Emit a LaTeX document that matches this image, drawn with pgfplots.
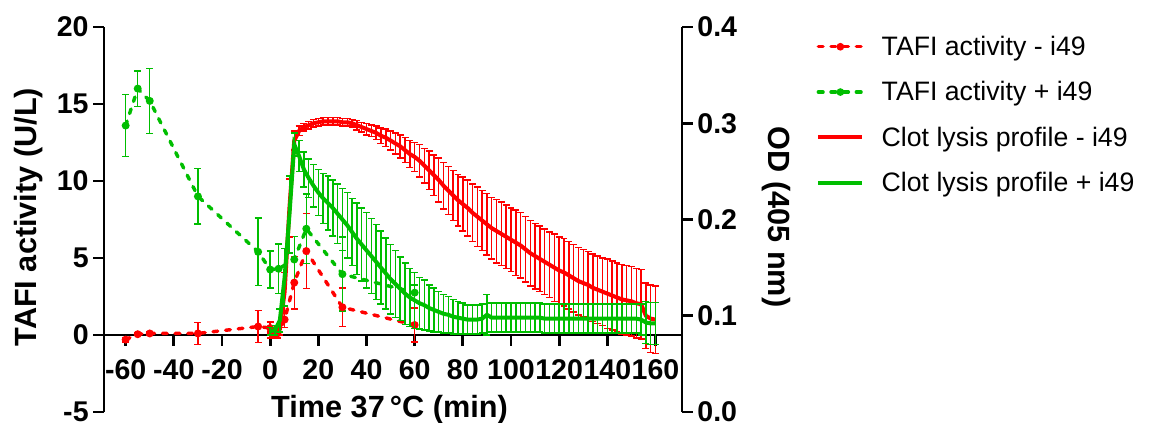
\documentclass[border=0pt]{standalone}
\usepackage{fontspec}
\setmainfont{Liberation Sans}
\usepackage{pgfplots}
\pgfplotsset{compat=1.18}
\definecolor{myred}{RGB}{255,0,0}
\definecolor{mygreen}{RGB}{0,190,0}

\pgfplotstableread{
x y e
-60 -0.3 0.15
-55 0.05 0.1
-50 0.1 0.1
-30 0.1 0.72
-5 0.55 1.05
0 0.45 0.4
3 0.1 0.3
6 1.0 0.5
10 3.4 1.7
15 5.45 2.43
30 1.8 1.25
60 0.65 1.1
}\tafiminus

\pgfplotstableread{
x y e
-60 13.6 2.0
-55 16.0 1.15
-50 15.2 2.1
-30 9.0 1.8
-5 5.4 2.2
0 4.25 1.2
3.5 4.3 1.6
10 4.9 1.5
15 6.9 2.25
30 3.95 2.4
60 2.75 0.5
}\tafiplus

\pgfplotstableread{
x y e
0 0.080 0.003
2 0.080 0.003
4 0.086 0.006
6 0.125 0.020
8 0.212 0.030
10 0.282 0.010
12 0.292 0.005
14 0.296 0.004
16 0.298 0.004
18 0.300 0.004
20 0.301 0.004
22 0.302 0.004
24 0.302 0.004
26 0.302 0.004
28 0.302 0.004
30 0.301 0.004
32 0.301 0.004
34 0.300 0.004
36 0.298 0.005
38 0.296 0.005
40 0.294 0.006
42 0.292 0.006
44 0.290 0.007
46 0.287 0.008
48 0.285 0.009
50 0.282 0.010
52 0.279 0.011
54 0.276 0.012
56 0.272 0.013
58 0.268 0.014
60 0.265 0.015
62 0.261 0.017
64 0.256 0.018
66 0.251 0.020
68 0.246 0.021
70 0.241 0.023
72 0.235 0.024
74 0.230 0.025
76 0.225 0.026
78 0.220 0.027
80 0.216 0.028
82 0.212 0.029
84 0.207 0.030
86 0.203 0.031
88 0.199 0.031
90 0.195 0.032
92 0.191 0.032
94 0.188 0.033
96 0.185 0.033
98 0.182 0.033
100 0.179 0.033
102 0.176 0.034
104 0.173 0.034
106 0.169 0.034
108 0.165 0.034
110 0.162 0.034
112 0.159 0.034
114 0.156 0.034
116 0.153 0.034
118 0.150 0.035
120 0.147 0.035
122 0.145 0.035
124 0.142 0.035
126 0.139 0.035
128 0.136 0.035
130 0.134 0.035
132 0.132 0.035
134 0.129 0.035
136 0.127 0.035
138 0.125 0.035
140 0.123 0.036
142 0.121 0.036
144 0.119 0.036
146 0.117 0.036
148 0.116 0.036
150 0.115 0.036
152 0.113 0.036
154 0.112 0.036
156 0.100 0.034
158 0.097 0.035
160 0.096 0.035
}\clotminus

\pgfplotstableread{
x y e
0 0.084 0.004
2 0.085 0.005
4 0.095 0.012
6 0.140 0.030
8 0.205 0.040
10 0.278 0.012
12 0.266 0.016
14 0.252 0.018
16 0.243 0.020
18 0.235 0.022
20 0.228 0.024
22 0.222 0.026
24 0.217 0.028
26 0.212 0.029
28 0.206 0.031
30 0.200 0.032
32 0.194 0.034
34 0.187 0.035
36 0.180 0.037
38 0.174 0.038
40 0.168 0.039
42 0.162 0.039
44 0.156 0.039
46 0.150 0.038
48 0.144 0.037
50 0.138 0.036
52 0.133 0.035
54 0.128 0.033
56 0.123 0.032
58 0.119 0.030
60 0.116 0.029
62 0.113 0.027
64 0.111 0.026
66 0.108 0.024
68 0.106 0.023
70 0.104 0.021
72 0.102 0.020
74 0.101 0.019
76 0.099 0.018
78 0.098 0.017
80 0.097 0.016
82 0.096 0.015
84 0.096 0.015
86 0.096 0.015
88 0.097 0.015
90 0.101 0.021
92 0.098 0.015
94 0.098 0.015
96 0.098 0.015
98 0.098 0.015
100 0.098 0.015
102 0.098 0.015
104 0.098 0.015
106 0.098 0.015
108 0.098 0.015
110 0.098 0.015
112 0.098 0.015
114 0.097 0.015
116 0.097 0.015
118 0.097 0.015
120 0.097 0.015
122 0.097 0.015
124 0.097 0.015
126 0.097 0.015
128 0.097 0.015
130 0.097 0.015
132 0.097 0.015
134 0.097 0.015
136 0.097 0.015
138 0.097 0.015
140 0.097 0.015
142 0.097 0.015
144 0.097 0.015
146 0.097 0.015
148 0.097 0.015
150 0.097 0.015
152 0.097 0.015
154 0.096 0.016
156 0.093 0.022
158 0.092 0.022
160 0.092 0.022
}\clotplus

\tikzset{
  dashedser/.style={line width=2.6pt, line cap=round, dash pattern=on 3.5pt off 6pt,
    mark=*, mark size=1.6pt, mark options={solid}},
  solidser/.style={line width=3pt, mark=none},
}
\pgfplotsset{
  errstyle/.style={error bars/.cd, y dir=both, y explicit,
    error bar style={solid, line width=1.1pt, line cap=butt},
    error mark options={rotate=90, mark size=2.6pt, line width=1.1pt, solid}},
}

\begin{document}
\begin{tikzpicture}
\path[use as bounding box] (-78pt,-8.25pt) rectangle (783.75pt,309pt);
\begin{axis}[
  at={(0,0)}, anchor=south west,
  scale only axis, width=433.5pt, height=288.75pt,
  xmin=-69, xmax=171, ymin=-5, ymax=20,
  axis x line=middle, axis y line=left,
  axis line style={-, line width=2.2pt},
  xtick={-60,-40,...,160}, ytick={-5,0,5,10,15,20},
  tick align=outside, major tick length=8pt,
  tick style={line width=2.2pt, black},
  hide obscured x ticks=false,
  /pgf/number format/assume math mode=true,
  ticklabel style={font=\fontsize{21.4}{21.4}\selectfont\bfseries},
  xticklabel style={yshift=-7pt},
  xlabel={Time 37\,°C (min)}, ylabel={TAFI activity (U/L)},
  label style={font=\fontsize{23}{23}\selectfont\bfseries},
  xlabel style={at={(axis description cs:0.494,-0.0156)}, anchor=base},
  ylabel style={at={(axis description cs:-0.13,0.506)}, anchor=center},
  clip=false,
]
\addplot[myred, dashedser, errstyle] table[x=x, y=y, y error=e] {\tafiminus};
\addplot[mygreen, dashedser, errstyle] table[x=x, y=y, y error=e] {\tafiplus};
\end{axis}
\begin{axis}[
  at={(0,0)}, anchor=south west,
  scale only axis, width=433.5pt, height=288.75pt,
  xmin=-69, xmax=171, ymin=0, ymax=0.4,
  axis x line=none, axis y line=right,
  axis line style={-, line width=2.2pt},
  ytick={0,0.1,0.2,0.3,0.4},
  tick align=outside, major tick length=8pt,
  tick style={line width=2.2pt, black},
  /pgf/number format/assume math mode=true,
  yticklabel style={/pgf/number format/.cd, fixed, fixed zerofill, precision=1},
  ticklabel style={font=\fontsize{21.4}{21.4}\selectfont\bfseries},
  ylabel={OD (405 nm)},
  label style={font=\fontsize{23}{23}\selectfont\bfseries},
  ylabel style={at={(axis description cs:1.164,0.506)}, anchor=center, rotate=180},
  clip=false,
  legend style={at={(axis description cs:1.232,0.984)}, anchor=north west, draw=none, fill=none,
    font=\fontsize{20}{20}\selectfont, row sep=14pt, inner sep=0pt},
  legend cell align=left,
  legend image code/.code={\draw[mark repeat=2, mark phase=2, #1] plot coordinates {(0pt,0pt) (16.5pt,0pt) (33pt,0pt)}; \path (44pt,0pt);},
]
\addlegendimage{myred, dashedser, mark size=1.5pt}
\addlegendentry{TAFI activity - i49}
\addlegendimage{mygreen, dashedser, mark size=1.5pt}
\addlegendentry{TAFI activity + i49}
\addplot[myred, solidser, errstyle] table[x=x, y=y, y error=e] {\clotminus};
\addlegendentry{Clot lysis profile - i49}
\addplot[mygreen, solidser, errstyle] table[x=x, y=y, y error=e] {\clotplus};
\addlegendentry{Clot lysis profile + i49}
\end{axis}
\end{tikzpicture}
\end{document}
